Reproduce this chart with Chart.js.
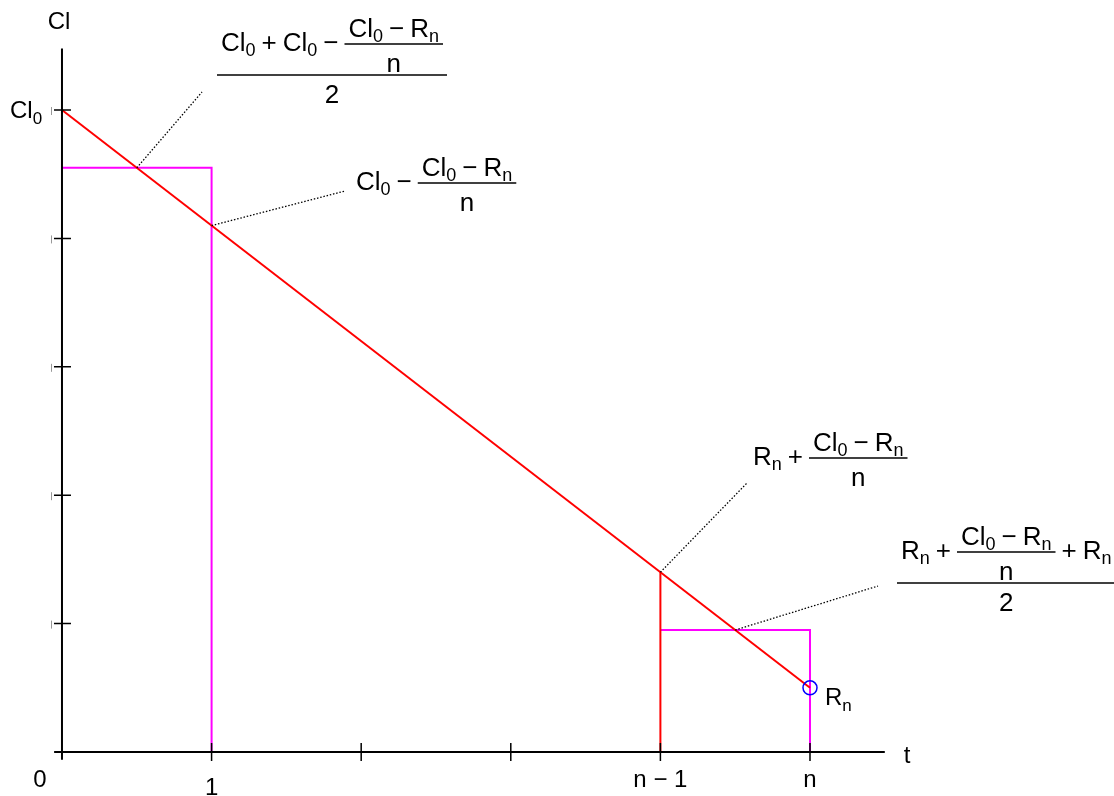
<!DOCTYPE html>
<html>
<head>
<meta charset="utf-8">
<script src="https://cdn.jsdelivr.net/npm/chart.js@4"></script>
<style>
  html, body { margin: 0; padding: 0; background: #fff; }
  #wrap { width: 1114px; height: 796px; position: relative; }
</style>
</head>
<body>
<div id="wrap"><canvas id="clChart"></canvas></div>
<script>
// ticks along t and Cl
var tTicks = [0, 1, 2, 3, 4, 5];
var tTickLabels = ['0', '1', '', '', 'n \u2212 1', 'n'];
var clTicks = [0, 1, 2, 3, 4, 5];

// straight decline from Cl0 to Rn
var lineT = [0, 5];
var lineCl = [5, 0.5];
// first period (average level)
var step1T = [0, 1, 1];
var step1Cl = [4.55, 4.55, 0];
// value at n-1
var markT = [4, 4];
var markCl = [0, 1.4];
// last period (average level)
var step2T = [4, 5, 5];
var step2Cl = [0.95, 0.95, 0];
// end point Rn
var endT = [5];
var endCl = [0.5];

// points on the curves the dotted leaders start from
var leaderT = [0.5, 1, 4, 4.5];
var leaderCl = [4.55, 4.1, 1.4, 0.95];

function pts(xs, ys) {
  return xs.map(function(x, i) { return { x: x, y: ys[i] }; });
}

// formula pieces: ['t', text, sub] text, ['o', op] operator, ['f', num, den] fraction
var T = function(s, sub) { return ['t', s, sub || '']; };
var O = function(s) { return ['o', s]; };
var F = function(n, d) { return ['f', n, d]; };
var diffOverN = F([T('Cl', '0'), O('\u2212'), T('R', 'n')], [T('n')]);

var formulas = [
  { x: 217, y: 82, nodes: [F([T('Cl', '0'), O('+'), T('Cl', '0'), O('\u2212'), diffOverN], [T('2')])] },
  { x: 356, y: 190, nodes: [T('Cl', '0'), O('\u2212'), diffOverN] },
  { x: 753, y: 465, nodes: [T('R', 'n'), O('+'), diffOverN] },
  { x: 897, y: 590, nodes: [F([T('R', 'n'), O('+'), diffOverN, O('+'), T('R', 'n')], [T('2')])] }
];
var leaderEnds = [[202, 92], [345, 191], [747, 483], [878, 586]];

var FS = 26, SUB = 18, OPPAD = 6, BARPAD = 4;
var FONT = 'px "Liberation Sans", Arial, sans-serif';

function hasFrac(nodes) {
  return nodes.some(function(n) { return n[0] === 'f'; });
}

function nodesWidth(ctx, nodes) {
  var w = 0;
  nodes.forEach(function(n) {
    if (n[0] === 't') {
      ctx.font = FS + FONT;
      w += ctx.measureText(n[1]).width;
      if (n[2]) {
        ctx.font = SUB + FONT;
        w += ctx.measureText(n[2]).width;
      }
    } else if (n[0] === 'o') {
      ctx.font = FS + FONT;
      w += ctx.measureText(n[1]).width + OPPAD * 2;
    } else {
      w += Math.max(nodesWidth(ctx, n[1]), nodesWidth(ctx, n[2])) + BARPAD * 2;
    }
  });
  return w;
}

function drawNodes(ctx, nodes, x, base) {
  nodes.forEach(function(n) {
    if (n[0] === 't') {
      ctx.font = FS + FONT;
      ctx.fillText(n[1], x, base);
      x += ctx.measureText(n[1]).width;
      if (n[2]) {
        ctx.font = SUB + FONT;
        ctx.fillText(n[2], x, base + 5);
        x += ctx.measureText(n[2]).width;
      }
    } else if (n[0] === 'o') {
      ctx.font = FS + FONT;
      ctx.fillText(n[1], x + OPPAD, base);
      x += ctx.measureText(n[1]).width + OPPAD * 2;
    } else {
      var nw = nodesWidth(ctx, n[1]), dw = nodesWidth(ctx, n[2]);
      var w = Math.max(nw, dw) + BARPAD * 2;
      var bar = base - 7;
      ctx.beginPath();
      ctx.lineWidth = 1.3;
      ctx.moveTo(x, bar);
      ctx.lineTo(x + w, bar);
      ctx.stroke();
      drawNodes(ctx, n[1], x + (w - nw) / 2, bar - (hasFrac(n[1]) ? 24 : 7));
      drawNodes(ctx, n[2], x + (w - dw) / 2, bar + 28);
      x += w;
    }
  });
}

var axesPlugin = {
  id: 'axesAndNotes',
  afterDatasetsDraw: function(chart) {
    var ctx = chart.ctx;
    var xs = chart.scales.x, ys = chart.scales.y;
    var x0 = xs.getPixelForValue(0), y0 = ys.getPixelForValue(0);
    ctx.save();
    ctx.strokeStyle = '#000';
    ctx.fillStyle = '#000';

    // axes
    ctx.lineWidth = 2;
    ctx.beginPath();
    ctx.moveTo(chart.chartArea.left, y0);
    ctx.lineTo(chart.chartArea.right, y0);
    ctx.moveTo(x0, chart.chartArea.top);
    ctx.lineTo(x0, chart.chartArea.bottom);
    ctx.stroke();

    // ticks crossing the axes
    ctx.lineWidth = 1.5;
    ctx.beginPath();
    tTicks.forEach(function(t) {
      if (t === 0) return;
      var px = xs.getPixelForValue(t);
      ctx.moveTo(px, y0 - 9);
      ctx.lineTo(px, y0 + 9);
    });
    clTicks.forEach(function(c) {
      var py = ys.getPixelForValue(c);
      ctx.moveTo(x0 - 8, py);
      ctx.lineTo(x0 + 9, py);
    });
    ctx.stroke();
    // small clipped marks left of the Cl ticks
    ctx.strokeStyle = '#999';
    ctx.lineWidth = 1;
    ctx.beginPath();
    clTicks.forEach(function(c) {
      if (c === 0) return;
      var py = ys.getPixelForValue(c);
      ctx.moveTo(51.5, py - 3);
      ctx.lineTo(51.5, py + 5);
    });
    ctx.stroke();
    ctx.strokeStyle = '#000';

    // tick labels
    ctx.font = 24 + FONT;
    ctx.textAlign = 'center';
    ctx.textBaseline = 'alphabetic';
    tTicks.forEach(function(t, i) {
      if (!tTickLabels[i]) return;
      var px = xs.getPixelForValue(t);
      if (t === 0) px -= 22;
      ctx.fillText(tTickLabels[i], px, t === 1 ? 795 : 787);
    });
    ctx.fillText('Cl', x0 - 3, 29);
    ctx.fillText('t', 907, 763);
    ctx.textAlign = 'left';
    var cy = ys.getPixelForValue(5);
    ctx.fillText('Cl', 10, cy + 8);
    var cw = ctx.measureText('Cl').width;
    ctx.font = 17 + FONT;
    ctx.fillText('0', 10 + cw, cy + 14);
    // Rn at the end point
    ctx.font = 24 + FONT;
    ctx.fillText('R', 825, 705);
    var rw = ctx.measureText('R').width;
    ctx.font = 17 + FONT;
    ctx.fillText('n', 825 + rw, 711);

    // dotted leaders
    ctx.lineWidth = 1.3;
    ctx.setLineDash([1.5, 1.8]);
    ctx.beginPath();
    leaderT.forEach(function(t, i) {
      ctx.moveTo(xs.getPixelForValue(t), ys.getPixelForValue(leaderCl[i]));
      ctx.lineTo(leaderEnds[i][0], leaderEnds[i][1]);
    });
    ctx.stroke();
    ctx.setLineDash([]);

    // formulas
    formulas.forEach(function(f) {
      drawNodes(ctx, f.nodes, f.x, f.y);
    });
    ctx.restore();
  }
};

new Chart(document.getElementById('clChart'), {
  type: 'scatter',
  data: {
    datasets: [
      {
        data: pts(endT, endCl),
        borderColor: '#0000ff',
        backgroundColor: 'rgba(0,0,0,0)',
        pointRadius: 7,
        pointBorderWidth: 1.5,
        showLine: false,
        order: 0
      },
      {
        data: pts(lineT, lineCl),
        borderColor: '#ff0000',
        borderWidth: 2,
        pointRadius: 0,
        showLine: true,
        order: 1
      },
      {
        data: pts(markT, markCl),
        borderColor: '#ff0000',
        borderWidth: 2,
        pointRadius: 0,
        showLine: true,
        order: 1
      },
      {
        data: pts(step1T, step1Cl),
        borderColor: '#ff00ff',
        borderWidth: 2,
        pointRadius: 0,
        showLine: true,
        order: 2
      },
      {
        data: pts(step2T, step2Cl),
        borderColor: '#ff00ff',
        borderWidth: 2,
        pointRadius: 0,
        showLine: true,
        order: 2
      }
    ]
  },
  options: {
    responsive: true,
    maintainAspectRatio: false,
    animation: false,
    layout: { padding: { left: 54.5, right: 229.2, top: 48.4, bottom: 36.3 } },
    scales: {
      x: { type: 'linear', min: -0.05, max: 5.5, display: false },
      y: { type: 'linear', min: -0.06, max: 5.48, display: false }
    },
    plugins: {
      legend: { display: false },
      tooltip: { enabled: false }
    }
  },
  plugins: [axesPlugin]
});
</script>
</body>
</html>
